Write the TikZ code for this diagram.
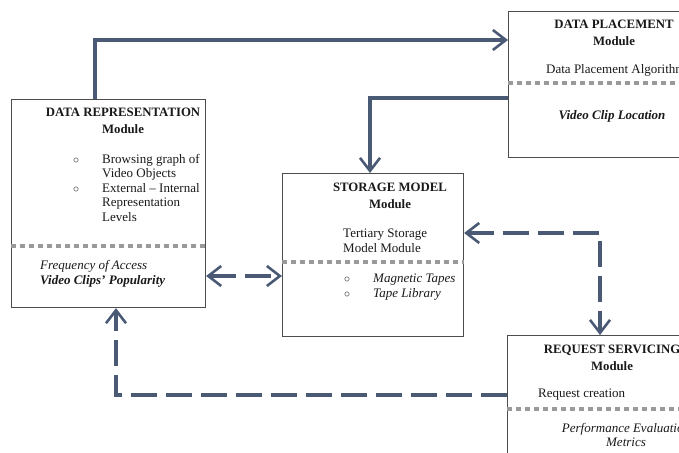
\documentclass[tikz,border=0pt]{standalone}
\usepackage{fontspec}
\setmainfont{Liberation Serif}
\usetikzlibrary{positioning,arrows.meta}

\definecolor{linkblue}{HTML}{4A5A75}
\definecolor{sepgray}{HTML}{9A9A9A}

\tikzset{
  modbox/.style = {draw=black!70, line width=1.1pt, anchor=north west,
                   inner sep=0pt},
  sepline/.style = {draw=sepgray, line width=4pt, dash pattern=on 5pt off 4pt},
  barb/.tip = {Straight Barb[length=13pt,width=20pt,line width=2.6pt]},
  flow/.style = {draw=linkblue, line width=3.6pt},
  dflow/.style = {flow, dash pattern=on 26pt off 9pt},
  modtitle/.style = {font=\fontsize{12.8}{16.5}\selectfont\bfseries,
                     align=center, text=black!90, inner sep=0pt},
  modtext/.style = {font=\fontsize{13}{14.5}\selectfont, align=left,
                    text=black!90, inner sep=0pt},
  dot/.style = {font=\fontsize{13}{14.5}\selectfont, text=black!90, inner sep=0pt}
}

\begin{document}
\begin{tikzpicture}[x=1pt,y=-1pt]
\useasboundingbox (0,0) rectangle (679,452);
\clip (0,0) rectangle (679,452);

% module boxes
\node[modbox, minimum width=194pt, minimum height=208pt] (drep) at (11,99) {};
\node[modbox, minimum width=212pt, minimum height=146pt] (dplace) at (508,11) {};
\node[modbox, minimum width=181pt, minimum height=163pt] (store) at (282,173) {};
\node[modbox, minimum width=213pt, minimum height=135pt] (reqs) at (507,335) {};

% data representation
\node[modtitle] (drep-t) at (123,121) {DATA REPRESENTATION\\Module};
\node[modtext, anchor=north west] (drep-l) at (102,154) {Browsing graph of\\Video Objects\\External -- Internal\\Representation\\Levels};
\node[dot] (drep-b1) at (76,161) {$\circ$};
\node[dot] (drep-b2) at (76,190) {$\circ$};
\draw[sepline] (drep.west |- 0,246) -- (drep.east |- 0,246);
\node[modtext, anchor=west] (drep-f) at (40,274) {\itshape Frequency of Access\\\bfseries\itshape Video Clips' Popularity};

% data placement
\node[modtitle] (dplace-t) at (614,33) {DATA PLACEMENT\\Module};
\node[modtext, anchor=west] (dplace-a) at (546,70) {Data Placement Algorithm};
\draw[sepline] (dplace.west |- 0,83) -- (dplace.east |- 0,83);
\node[modtext, font=\fontsize{13}{14.5}\selectfont\bfseries\itshape] (dplace-v) at (612,116) {Video Clip Location};

% storage model
\node[modtitle] (store-t) at (390,196) {STORAGE MODEL\\Module};
\node[modtext, anchor=west] (store-a) at (343,241) {Tertiary Storage\\Model Module};
\draw[sepline] (store.west |- 0,262) -- (store.east |- 0,262);
\node[modtext, anchor=west, font=\fontsize{13}{14.5}\selectfont\itshape] (store-l) at (373,287) {Magnetic Tapes\\Tape Library};
\node[dot] (store-b1) at (347,280) {$\circ$};
\node[dot] (store-b2) at (347,295) {$\circ$};

% request servicing
\node[modtitle] (reqs-t) at (612,358) {REQUEST SERVICING\\Module};
\node[modtext, anchor=west] (reqs-a) at (538,395) {Request creation};
\draw[sepline] (reqs.west |- 0,409) -- (reqs.east |- 0,409);
\node[modtext, align=center, font=\fontsize{13}{14.5}\selectfont\itshape] (reqs-p) at (626,435) {Performance Evaluation\\Metrics};

% connectors
\draw[flow, -barb] (drep.north -| 95,0) |- (dplace.west |- 0,40);
\draw[flow, -barb] (dplace.west |- 0,98) -| (store.north -| 370,0);
\draw[dflow, barb-barb] (drep.east |- 0,276) -- (store.west |- 0,276);
\draw[dflow, barb-barb] (store.east |- 0,233) -| (reqs.north -| 600,0);
\draw[dflow, -barb] (reqs.west |- 0,395) -| (drep.south -| 116,0);
\end{tikzpicture}
\end{document}
